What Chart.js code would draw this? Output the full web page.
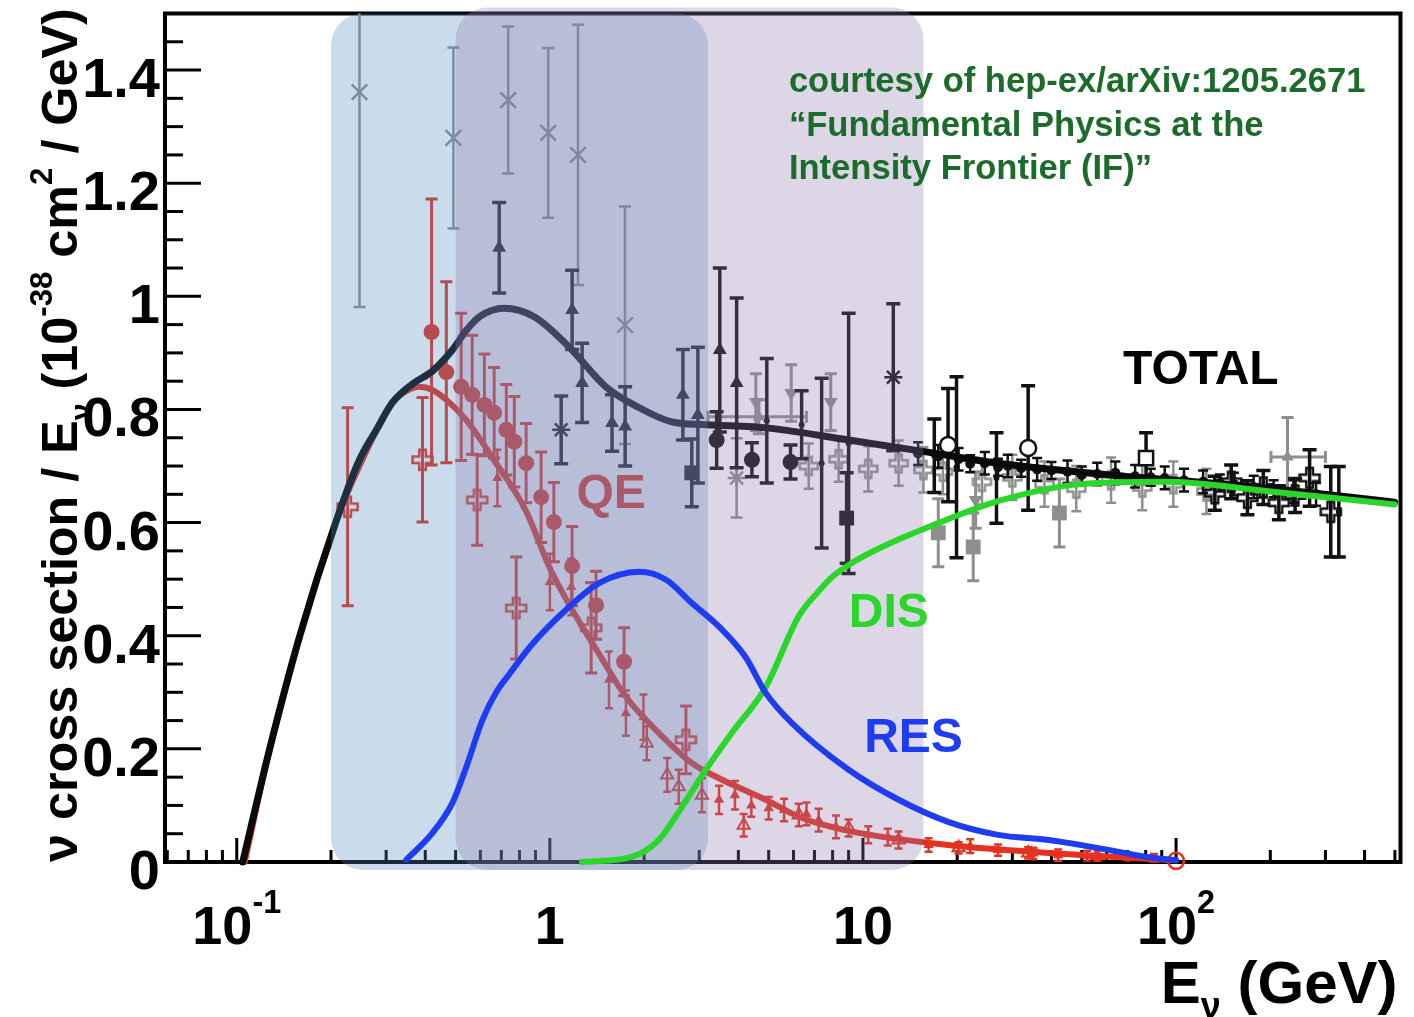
<!DOCTYPE html>
<html>
<head>
<meta charset="utf-8">
<title>Neutrino cross section</title>
<script src="https://cdn.jsdelivr.net/npm/chart.js@4.4.1/dist/chart.umd.min.js"></script>
<style>
  html, body { margin: 0; padding: 0; background: #fff; }
  #wrap { width: 1414px; height: 1017px; position: relative; }
</style>
</head>
<body>
<div id="wrap"><canvas id="xsec"></canvas></div>
<script>
// axis ranges: neutrino energy (GeV, log) and sigma/E (1e-38 cm^2/GeV)
const eRange = [0.059, 521];
const sRange = [0, 1.5];

// model predictions
const totalE = [0.1045, 0.1274, 0.159, 0.207, 0.2466, 0.28, 0.314, 0.364, 0.422, 0.488, 0.541, 0.6, 0.714, 0.891, 1.15, 1.51, 1.93, 2.45, 3.15, 5.0, 9.0, 15.9, 27, 71.8, 150, 312, 499];
const totalS = [0, 0.2, 0.4, 0.6, 0.711, 0.765, 0.812, 0.845, 0.868, 0.905, 0.94, 0.965, 0.979, 0.964, 0.911, 0.840, 0.803, 0.778, 0.773, 0.767, 0.746, 0.725, 0.705, 0.681, 0.667, 0.649, 0.636];

const qeE = [0.106, 0.1274, 0.159, 0.207, 0.2466, 0.314, 0.35, 0.383, 0.42, 0.467, 0.541, 0.655, 0.84, 0.995, 1.178, 1.41, 1.75, 2.23, 2.84, 3.47, 4.89, 6.24, 9.0, 18.7, 39.2, 100];
const qeS = [0, 0.2, 0.4, 0.6, 0.70, 0.812, 0.833, 0.84, 0.835, 0.817, 0.781, 0.715, 0.62, 0.522, 0.446, 0.375, 0.292, 0.228, 0.175, 0.148, 0.11, 0.080, 0.055, 0.03, 0.016, 0.003];

const resE = [0.348, 0.42, 0.488, 0.541, 0.608, 0.674, 0.742, 0.878, 1.127, 1.436, 1.93, 2.35, 2.84, 3.47, 4.22, 4.89, 5.92, 9.0, 13.0, 18.7, 27, 39.2, 56, 81, 100];
const resS = [0.004, 0.05, 0.104, 0.168, 0.25, 0.30, 0.332, 0.385, 0.446, 0.493, 0.513, 0.499, 0.458, 0.416, 0.362, 0.299, 0.246, 0.163, 0.11, 0.071, 0.048, 0.039, 0.025, 0.009, 0.003];

const disE = [1.268, 1.83, 2.23, 2.64, 3.15, 3.81, 4.89, 6.24, 7.2, 7.94, 9.5, 11.5, 16.5, 27, 49.8, 92, 200, 499];
const disS = [0, 0.009, 0.039, 0.097, 0.163, 0.228, 0.309, 0.435, 0.478, 0.503, 0.533, 0.557, 0.594, 0.638, 0.668, 0.672, 0.655, 0.632];

// QE measurements
const qeDotE = [0.419, 0.467, 0.521, 0.565, 0.618, 0.664, 0.726, 0.770, 0.840, 0.938, 1.03, 1.178, 1.405, 1.726];
const qeDotS = [0.937, 0.866, 0.840, 0.826, 0.808, 0.794, 0.764, 0.743, 0.705, 0.645, 0.601, 0.523, 0.454, 0.354];
const qeDotErr = [0.235, 0.16, 0.13, 0.105, 0.09, 0.08, 0.08, 0.08, 0.07, 0.08, 0.07, 0.07, 0.06, 0.06];

const qeCrossE = [0.226, 0.392, 0.586, 0.781, 1.355, 2.72];
const qeCrossS = [0.628, 0.711, 0.640, 0.449, 0.414, 0.216];
const qeCrossErr = [0.175, 0.11, 0.08, 0.09, 0.08, 0.06];

const qeTriE = [0.68, 1.0, 1.17, 1.545, 1.75, 1.99, 3.47, 3.9, 4.4, 5.0, 5.6, 6.6, 7.22, 8.2, 10.4, 12.0, 16.2, 22, 27, 35, 42, 52, 70.3, 85];
const qeTriS = [0.679, 0.495, 0.486, 0.322, 0.263, 0.256, 0.110, 0.118, 0.100, 0.095, 0.092, 0.085, 0.074, 0.062, 0.048, 0.044, 0.030, 0.028, 0.021, 0.015, 0.012, 0.010, 0.007, 0.004];
const qeTriErr = [0.05, 0.05, 0.05, 0.05, 0.04, 0.04, 0.025, 0.025, 0.02, 0.02, 0.02, 0.02, 0.02, 0.02, 0.015, 0.015, 0.012, 0.012, 0.01, 0.01, 0.01, 0.01, 0.01, 0.01];

const qeOpenE = [2.04, 2.37, 2.58, 3.06, 4.16, 6.24, 9.0, 13.0, 20.2, 33.7, 56];
const qeOpenS = [0.210, 0.154, 0.133, 0.118, 0.065, 0.083, 0.060, 0.039, 0.025, 0.016, 0.011];
const qeOpenErr = [0.03, 0.03, 0.03, 0.03, 0.02, 0.02, 0.015, 0.015, 0.01, 0.01, 0.01];

const qeEndE = [100];
const qeEndS = [0.002];

// total cross section measurements
const totTriE = [0.689, 1.178, 1.268, 1.58, 1.74, 2.66, 2.97, 3.49, 3.95];
const totTriS = [1.086, 0.976, 0.847, 0.776, 0.770, 0.826, 0.790, 0.905, 0.847];
const totTriErr = [0.08, 0.07, 0.07, 0.05, 0.07, 0.08, 0.12, 0.145, 0.15];

const totDotE = [3.41, 4.42, 5.87];
const totDotS = [0.746, 0.711, 0.707];
const totDotErr = [0.05, 0.03, 0.03];

const totSqE = [2.84, 8.87];
const totSqS = [0.688, 0.608];
const totSqErr = [0.06, 0.08];

const totStarE = [1.087, 12.5];
const totStarS = [0.764, 0.857];
const totStarErr = [0.06, 0.13];

const totOpenE = [18.7, 33.7];
const totOpenS = [0.737, 0.732];
const totOpenErr = [0.10, 0.11];

const totOpenSqE = [80.2];
const totOpenSqS = [0.714];
const totOpenSqErr = [0.045];

const totBarE = [4.93, 6.37, 7.38, 9.0, 16.9, 19.9, 26.7, 331];
const totBarS = [0.780, 0.773, 0.705, 0.740, 0.718, 0.698, 0.679, 0.619];
const totBarErr = [0.11, 0.06, 0.15, 0.23, 0.065, 0.16, 0.08, 0.08];

const totSmallE = [15.0, 17.4, 20.2, 22.0, 24.5, 27.0, 29.0, 32.0, 36.0, 40.0, 45.0, 50.0, 56.0, 64.0, 74.0, 83.0, 92.0, 106, 122, 138, 153, 177, 205, 237, 280];
const totSmallS = [0.722, 0.717, 0.712, 0.704, 0.705, 0.698, 0.700, 0.696, 0.694, 0.692, 0.690, 0.684, 0.686, 0.688, 0.682, 0.680, 0.679, 0.675, 0.672, 0.670, 0.668, 0.663, 0.660, 0.655, 0.650];
const totSmallErr = [0.02, 0.02, 0.02, 0.015, 0.02, 0.015, 0.02, 0.015, 0.02, 0.015, 0.02, 0.015, 0.02, 0.02, 0.02, 0.015, 0.02, 0.02, 0.02, 0.015, 0.02, 0.02, 0.015, 0.02, 0.02];

const totCrossE = [133, 150, 169, 190, 213, 240, 267, 312];
const totCrossS = [0.652, 0.672, 0.644, 0.662, 0.635, 0.648, 0.679, 0.619];
const totCrossErr = [0.03, 0.03, 0.03, 0.03, 0.03, 0.03, 0.05, 0.08];

// older / grey measurements
const greyXE = [0.2466, 0.492, 0.736, 0.988, 1.23, 1.738];
const greyXS = [1.361, 1.280, 1.347, 1.289, 1.25, 0.949];
const greyXErr = [0.38, 0.16, 0.13, 0.15, 0.23, 0.21];

const greyStarE = [3.95];
const greyStarS = [0.679];
const greyStarErr = [0.07];

const greySqE = [17.4, 22.5, 42.4];
const greySqS = [0.582, 0.557, 0.617];
const greySqErr = [0.06, 0.06, 0.06];

const greyInvE = [4.55, 5.9, 7.89, 22.9];
const greyInvS = [0.813, 0.829, 0.813, 0.640];
const greyInvErr = [0.05, 0.05, 0.05, 0.05];

const greyHE = [4.65, 227];
const greyHS = [0.787, 0.716];
const greyHErr = [0.03, 0.07];
const greyHLo = [3.2, 201];
const greyHHi = [6.6, 300];

const greyCrossE = [6.71, 8.36, 10.4, 13.0, 15.6, 18, 24, 30, 38, 48, 62, 78, 98, 125];
const greyCrossS = [0.700, 0.712, 0.695, 0.705, 0.693, 0.69, 0.672, 0.68, 0.668, 0.66, 0.675, 0.662, 0.668, 0.655];
const greyCrossErr = [0.04, 0.04, 0.04, 0.04, 0.04, 0.04, 0.04, 0.04, 0.04, 0.04, 0.04, 0.04, 0.04, 0.04];

// shaded energy regions
const bandLo = [0.2, 0.5];
const bandHi = [3.2, 15.6];

// axis ticks
const yTicks = [0, 0.2, 0.4, 0.6, 0.8, 1, 1.2, 1.4];
const yTickLabels = ['0', '0.2', '0.4', '0.6', '0.8', '1', '1.2', '1.4'];
const xTicks = [0.1, 1, 10, 100];
const xTickLabels = [['10', '-1'], ['1', ''], ['10', ''], ['10', '2']];

const FONT = '"Liberation Sans", Arial, Helvetica, sans-serif';
const RED = '#e4321f';
const BLUE = '#1e3cf0';
const GREEN = '#2ad62a';
const GREY = '#8e8e8e';

function pts(xs, ys) {
  return xs.map((e, i) => ({ x: e, y: ys[i] }));
}

// outlined plus marker (open cross)
function openCross(r, color, lw) {
  const c = document.createElement('canvas');
  const s = Math.ceil(2 * r + lw + 2);
  c.width = c.height = s;
  const g = c.getContext('2d');
  const t = r / 3;
  g.translate(s / 2, s / 2);
  g.beginPath();
  g.moveTo(-t, -r); g.lineTo(t, -r); g.lineTo(t, -t); g.lineTo(r, -t);
  g.lineTo(r, t); g.lineTo(t, t); g.lineTo(t, r); g.lineTo(-t, r);
  g.lineTo(-t, t); g.lineTo(-r, t); g.lineTo(-r, -t); g.lineTo(-t, -t);
  g.closePath();
  g.strokeStyle = color;
  g.lineWidth = lw;
  g.stroke();
  return c;
}

function curve(label, xs, ys, color, width, order) {
  return {
    label, data: pts(xs, ys), showLine: true, borderColor: color, borderWidth: width,
    pointRadius: 0, cubicInterpolationMode: 'monotone', order, clip: false,
    borderCapStyle: 'round', borderJoinStyle: 'round'
  };
}

function markers(label, xs, ys, err, order, style) {
  return Object.assign({
    label, data: pts(xs, ys), errY: err, showLine: false, clip: false, order,
    pointBorderWidth: 0, errWidth: 3, cap: 6
  }, style);
}

const datasets = [
  curve('RES', resE, resS, BLUE, 6, 0),
  curve('DIS', disE, disS, GREEN, 6, 1),
  curve('TOTAL', totalE, totalS, '#0a0a0a', 7, 3),
  curve('QE', qeE, qeS, RED, 6, 4),

  markers('qe dots', qeDotE, qeDotS, qeDotErr, 6, { pointStyle: 'circle', pointRadius: 8, pointBackgroundColor: RED, errColor: RED }),
  markers('qe crosses', qeCrossE, qeCrossS, qeCrossErr, 6, { pointStyle: openCross(10, RED, 2.5), errColor: RED }),
  markers('qe triangles', qeTriE, qeTriS, qeTriErr, 6, { pointStyle: 'triangle', pointRadius: 6, pointBackgroundColor: RED, errColor: RED, errWidth: 2.5, cap: 4 }),
  markers('qe open triangles', qeOpenE, qeOpenS, qeOpenErr, 6, { pointStyle: 'triangle', pointRadius: 7, pointBackgroundColor: 'rgba(0,0,0,0)', pointBorderColor: RED, pointBorderWidth: 2, errColor: RED, errWidth: 2.5, cap: 4 }),
  markers('qe end', qeEndE, qeEndS, [0], 6, { pointStyle: 'circle', pointRadius: 8, pointBackgroundColor: 'rgba(0,0,0,0)', pointBorderColor: RED, pointBorderWidth: 2.5, errColor: RED }),

  markers('tot triangles', totTriE, totTriS, totTriErr, 8, { pointStyle: 'triangle', pointRadius: 8, pointBackgroundColor: '#111', errColor: '#111', errWidth: 3.5, cap: 7 }),
  markers('tot dots', totDotE, totDotS, totDotErr, 8, { pointStyle: 'circle', pointRadius: 8, pointBackgroundColor: '#111', errColor: '#111', errWidth: 3.5, cap: 7 }),
  markers('tot squares', totSqE, totSqS, totSqErr, 8, { pointStyle: 'rect', pointRadius: 10.5, pointBackgroundColor: '#111', errColor: '#111', errWidth: 3.5, cap: 7 }),
  markers('tot stars', totStarE, totStarS, totStarErr, 8, { pointStyle: 'star', pointRadius: 9, pointBorderColor: '#111', pointBorderWidth: 2.5, errColor: '#111', errWidth: 3.5, cap: 7 }),
  markers('tot open', totOpenE, totOpenS, totOpenErr, 8, { pointStyle: 'circle', pointRadius: 8, pointBackgroundColor: '#fff', pointBorderColor: '#111', pointBorderWidth: 2.5, errColor: '#111', errWidth: 3.5, cap: 7 }),
  markers('tot open squares', totOpenSqE, totOpenSqS, totOpenSqErr, 8, { pointStyle: 'rect', pointRadius: 10, pointBackgroundColor: '#fff', pointBorderColor: '#111', pointBorderWidth: 2.5, errColor: '#111', errWidth: 3.5, cap: 7 }),
  markers('tot bars', totBarE, totBarS, totBarErr, 8, { pointStyle: 'circle', pointRadius: 3, pointBackgroundColor: '#111', errColor: '#111', errWidth: 3.5, cap: 7 }),
  markers('tot small', totSmallE, totSmallS, totSmallErr, 8, { pointStyle: 'circle', pointRadius: 5, pointBackgroundColor: '#111', errColor: '#111', errWidth: 2.5, cap: 5 }),
  markers('tot crosses', totCrossE, totCrossS, totCrossErr, 8, { pointStyle: openCross(10, '#111', 2.5), errColor: '#111', errWidth: 3.5, cap: 7 }),

  markers('grey x', greyXE, greyXS, greyXErr, 10, { pointStyle: 'crossRot', pointRadius: 11, pointBorderColor: GREY, pointBorderWidth: 2.5, errColor: GREY, errWidth: 2.5, cap: 6 }),
  markers('grey stars', greyStarE, greyStarS, greyStarErr, 10, { pointStyle: 'star', pointRadius: 9, pointBorderColor: GREY, pointBorderWidth: 2.5, errColor: GREY, errWidth: 2.5, cap: 6 }),
  markers('grey squares', greySqE, greySqS, greySqErr, 10, { pointStyle: 'rect', pointRadius: 10.5, pointBackgroundColor: GREY, errColor: GREY, errWidth: 3, cap: 6 }),
  markers('grey inverted', greyInvE, greyInvS, greyInvErr, 10, { pointStyle: 'triangle', pointRotation: 180, pointRadius: 8, pointBackgroundColor: GREY, errColor: GREY, errWidth: 3, cap: 6 }),
  markers('grey horizontal', greyHE, greyHS, greyHErr, 10, { pointStyle: 'triangle', pointRadius: 7, pointBackgroundColor: GREY, errColor: GREY, errWidth: 3, cap: 6, errXLo: greyHLo, errXHi: greyHHi }),
  markers('grey crosses', greyCrossE, greyCrossS, greyCrossErr, 10, { pointStyle: openCross(9, GREY, 2.5), errColor: GREY, errWidth: 2.5, cap: 5 })
];

function drawPieces(ctx, parts, x0, y0, size) {
  let xx = x0;
  parts.forEach(p => {
    ctx.font = `bold ${size * p.s}px ${FONT}`;
    ctx.fillText(p.t, xx, y0 + p.dy * size);
    xx += ctx.measureText(p.t).width;
  });
  return xx - x0;
}

function piecesWidth(ctx, parts, size) {
  let w = 0;
  parts.forEach(p => {
    ctx.font = `bold ${size * p.s}px ${FONT}`;
    w += ctx.measureText(p.t).width;
  });
  return w;
}

function drawFrame(chart) {
  const { ctx, chartArea: a, scales: { x, y } } = chart;
  ctx.save();
  ctx.strokeStyle = '#000';
  ctx.lineWidth = 3;
  // y ticks every 0.05, long ones every 0.2
  for (let k = 0; k < 30; k++) {
    const py = y.getPixelForValue(k * 0.05);
    const len = k % 4 === 0 ? 36 : 18;
    ctx.beginPath();
    ctx.moveTo(a.left, py);
    ctx.lineTo(a.left + len, py);
    ctx.stroke();
  }
  // x ticks: decades long, 2..9 short
  for (let d = -2; d <= 2; d++) {
    for (let m = 1; m <= 9; m++) {
      const v = m * Math.pow(10, d);
      if (v <= eRange[0] || v >= eRange[1]) continue;
      const px = x.getPixelForValue(v);
      const len = m === 1 ? 24 : 12;
      ctx.beginPath();
      ctx.moveTo(px, a.bottom);
      ctx.lineTo(px, a.bottom - len);
      ctx.stroke();
    }
  }
  ctx.lineWidth = 4;
  ctx.strokeRect(a.left, a.top, a.right - a.left, a.bottom - a.top);
  ctx.restore();
}

function drawErrors(chart, ds) {
  if (!ds.errY) return;
  const { ctx, chartArea: a, scales: { x, y } } = chart;
  ctx.save();
  ctx.beginPath();
  ctx.rect(a.left, a.top, a.right - a.left, a.bottom - a.top);
  ctx.clip();
  ctx.strokeStyle = ds.errColor;
  ctx.lineWidth = ds.errWidth;
  const cap = ds.cap;
  ds.data.forEach((p, i) => {
    const px = x.getPixelForValue(p.x);
    const py = y.getPixelForValue(p.y);
    const lo = y.getPixelForValue(p.y - ds.errY[i]);
    const hi = y.getPixelForValue(p.y + ds.errY[i]);
    ctx.beginPath();
    if (ds.errY[i] > 0) {
      ctx.moveTo(px, lo); ctx.lineTo(px, hi);
      ctx.moveTo(px - cap, lo); ctx.lineTo(px + cap, lo);
      ctx.moveTo(px - cap, hi); ctx.lineTo(px + cap, hi);
    }
    if (ds.errXLo) {
      const l = x.getPixelForValue(ds.errXLo[i]);
      const r = x.getPixelForValue(ds.errXHi[i]);
      ctx.moveTo(l, py); ctx.lineTo(r, py);
      ctx.moveTo(l, py - cap); ctx.lineTo(l, py + cap);
      ctx.moveTo(r, py - cap); ctx.lineTo(r, py + cap);
    }
    ctx.stroke();
  });
  ctx.restore();
}

function drawBands(chart) {
  const { ctx, chartArea: a, scales: { x } } = chart;
  const fills = ['rgba(80,140,190,0.3)', 'rgba(142,118,172,0.3)'];
  const tops = [a.top, a.top - 6];
  ctx.save();
  bandLo.forEach((lo, i) => {
    const l = x.getPixelForValue(lo);
    const r = x.getPixelForValue(bandHi[i]);
    ctx.fillStyle = fills[i];
    ctx.beginPath();
    ctx.roundRect(l, tops[i], r - l, a.bottom + 8 - tops[i], 32);
    ctx.fill();
  });
  ctx.restore();
}

function label(chart, text, e, s, color, size) {
  const { ctx, scales: { x, y } } = chart;
  ctx.save();
  ctx.font = `bold ${size}px ${FONT}`;
  ctx.fillStyle = color;
  ctx.textAlign = 'center';
  ctx.textBaseline = 'alphabetic';
  ctx.fillText(text, x.getPixelForValue(e), y.getPixelForValue(s) + size * 0.358);
  ctx.restore();
}

function drawAxisText(chart) {
  const { ctx, chartArea: a, scales: { x, y } } = chart;
  ctx.save();
  ctx.fillStyle = '#000';
  ctx.textBaseline = 'alphabetic';

  // y tick labels
  ctx.textAlign = 'right';
  ctx.font = `bold 56px ${FONT}`;
  yTicks.forEach((v, i) => {
    ctx.fillText(yTickLabels[i], a.left - 5, y.getPixelForValue(v) + 27);
  });

  // x tick labels with exponents
  ctx.textAlign = 'left';
  xTicks.forEach((v, i) => {
    const parts = [{ t: xTickLabels[i][0], s: 1, dy: 0 }, { t: xTickLabels[i][1], s: 0.6, dy: -0.58 }];
    const w = piecesWidth(ctx, parts, 54);
    drawPieces(ctx, parts, x.getPixelForValue(v) - w / 2, a.bottom + 82, 54);
  });

  // x title
  const xt = [{ t: 'E', s: 1, dy: 0 }, { t: 'ν', s: 0.6, dy: 0.25 }, { t: ' (GeV)', s: 1, dy: 0 }];
  const xw = piecesWidth(ctx, xt, 60);
  drawPieces(ctx, xt, a.right - 3 - xw, 1003, 60);

  // y title, rotated, scaled to span the axis height
  const yt = [
    { t: 'ν cross section / E', s: 1, dy: 0 },
    { t: 'ν', s: 0.6, dy: 0.28 },
    { t: ' (10', s: 1, dy: 0 },
    { t: '-38', s: 0.62, dy: -0.5 },
    { t: ' cm', s: 1, dy: 0 },
    { t: '2', s: 0.62, dy: -0.5 },
    { t: ' / GeV)', s: 1, dy: 0 }
  ];
  const size = 100 * (a.bottom - 8) / piecesWidth(ctx, yt, 100);
  ctx.translate(77, a.bottom);
  ctx.rotate(-Math.PI / 2);
  drawPieces(ctx, yt, 0, 0, size);
  ctx.restore();
}

const decor = {
  id: 'decor',
  beforeDatasetsDraw(chart) {
    drawFrame(chart);
    label(chart, 'QE', 1.57, 0.656, RED, 48);
  },
  beforeDatasetDraw(chart, args) {
    const ds = chart.data.datasets[args.index];
    if (ds.label === 'DIS') drawBands(chart);
    drawErrors(chart, ds);
  },
  afterDatasetsDraw(chart) {
    const { ctx, scales: { x, y } } = chart;
    label(chart, 'DIS', 12.1, 0.446, GREEN, 48);
    label(chart, 'RES', 14.5, 0.225, BLUE, 48);
    label(chart, 'TOTAL', 120, 0.875, '#000', 48);

    // source note
    ctx.save();
    ctx.fillStyle = '#1b6b2b';
    ctx.font = `bold 34.6px ${FONT}`;
    ctx.textAlign = 'left';
    const nx = x.getPixelForValue(5.8);
    const ny = y.getPixelForValue(1.361);
    ['courtesy of hep-ex/arXiv:1205.2671', '\u201cFundamental Physics at the', 'Intensity Frontier (IF)\u201d']
      .forEach((line, i) => ctx.fillText(line, nx, ny + i * 43.5));
    ctx.restore();

    drawAxisText(chart);
  }
};

new Chart(document.getElementById('xsec'), {
  type: 'scatter',
  data: { datasets },
  plugins: [decor],
  options: {
    responsive: true,
    maintainAspectRatio: false,
    devicePixelRatio: 1,
    animation: false,
    events: [],
    layout: { padding: { left: 165, right: 11, top: 13, bottom: 155 } },
    plugins: { legend: { display: false }, tooltip: { enabled: false } },
    scales: {
      x: { type: 'logarithmic', min: eRange[0], max: eRange[1], display: false },
      y: { type: 'linear', min: sRange[0], max: sRange[1], display: false }
    }
  }
});
</script>
</body>
</html>
